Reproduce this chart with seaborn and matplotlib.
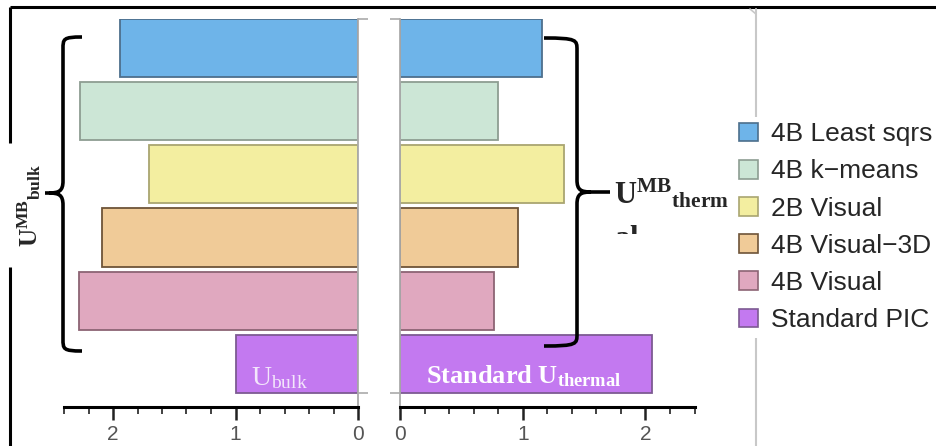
import matplotlib
matplotlib.use("Agg")
import matplotlib.pyplot as plt
import seaborn as sns
from matplotlib.path import Path
from matplotlib.patches import PathPatch
from matplotlib.ticker import MultipleLocator
from matplotlib.transforms import Bbox

# Methods, bulk velocity and thermal velocity estimates
methods = ["4B Least sqrs", "4B k\u2212means", "2B Visual",
           "4B Visual\u22123D", "4B Visual", "Standard PIC"]
u_bulk = [1.94, 2.27, 1.71, 2.09, 2.28, 1.00]
u_thermal = [1.16, 0.80, 1.34, 0.96, 0.77, 2.05]

fills = ["#6EB4E9", "#CCE6D6", "#F3EEA0", "#F0CB98", "#E0A8BF", "#C379F0"]
edges = ["#4D6F8C", "#8D9D92", "#A9A571", "#6E5438", "#8C6474", "#7D5A92"]

sns.set_theme(style="white")
plt.rcParams["font.family"] = ["Liberation Sans", "DejaVu Sans"]
plt.rcParams["mathtext.fontset"] = "custom"
plt.rcParams["mathtext.rm"] = "Liberation Serif"
plt.rcParams["mathtext.bf"] = "Liberation Serif:bold"
plt.rcParams["mathtext.it"] = "Liberation Serif:italic"

W, H = 936, 446
fig = plt.figure(figsize=(W / 100, H / 100), dpi=100)

def px_rect(x0, y0, x1, y1):
    return [x0 / W, 1 - y1 / H, (x1 - x0) / W, (y1 - y0) / H]

ax_l = fig.add_axes(px_rect(64, 18.7, 358, 407))
ax_r = fig.add_axes(px_rect(400, 18.7, 694.5, 407))

palette = dict(zip(methods, fills))
for ax, vals in ((ax_l, u_bulk), (ax_r, u_thermal)):
    sns.barplot(x=vals, y=methods, hue=methods, palette=palette, orient="h",
                width=0.92, linewidth=1.3, legend=False, ax=ax, saturation=1)
    for patch, ec in zip(ax.patches, edges):
        patch.set_edgecolor(ec)
    ax.set_ylim(5.68, -0.46)
    ax.set_xlim(0, 2.4)
    ax.set_xlabel("")
    ax.set_ylabel("")
    ax.xaxis.set_major_locator(MultipleLocator(1))
    ax.xaxis.set_minor_locator(MultipleLocator(0.2))
    ax.tick_params(axis="x", which="major", bottom=True, length=9, width=1.8,
                   color="#222222", labelsize=15, labelcolor="#555555", pad=4)
    ax.tick_params(axis="x", which="minor", bottom=True, length=5, width=1.3,
                   color="#333333")
    ax.set_yticks([-0.46, 5.46])
    ax.set_yticklabels([])
    ax.tick_params(axis="y", length=7, width=1.2, color="#AAAAAA")
    for s in ax.spines.values():
        s.set_visible(False)
    ax.spines["bottom"].set_visible(True)
    ax.spines["bottom"].set_color("black")
    ax.spines["bottom"].set_linewidth(2.2)
    ax.set_facecolor("none")

ax_l.invert_xaxis()
ax_l.yaxis.tick_right()
ax_l.spines["right"].set_visible(True)
ax_l.spines["right"].set_color("#AAAAAA")
ax_l.spines["right"].set_linewidth(1.3)
ax_l.tick_params(axis="y", right=True, left=False)
ax_r.spines["left"].set_visible(True)
ax_r.spines["left"].set_color("#AAAAAA")
ax_r.spines["left"].set_linewidth(1.3)
ax_r.tick_params(axis="y", left=True, right=False)

# Labels inside the standard PIC bars
ax_l.text(0.87, 5.33, r"$\mathrm{U_{bulk}}$", color="#F3E6FB", fontsize=20,
          ha="left", va="baseline")
ax_r.text(0.21, 5.30, r"$\mathbf{Standard\ U_{thermal}}$", color="white",
          fontsize=19, ha="left", va="baseline")

# Overlay in pixel coordinates for frame lines and braces
ov = fig.add_axes([0, 0, 1, 1])
ov.set_xlim(0, W)
ov.set_ylim(H, 0)
ov.axis("off")
ov.set_zorder(5)
ov.patch.set_alpha(0)

ov.plot([10, W], [7, 7], color="black", lw=2.2, solid_capstyle="butt")
ov.plot([10, 10], [7, 143], color="black", lw=2.2, solid_capstyle="butt")
ov.plot([10, 10], [267, H], color="black", lw=2.2, solid_capstyle="butt")
ov.plot([756, 756], [9, H], color="#C8C8C8", lw=1.5)
ov.plot([750, 756], [9, 14], color="#C8C8C8", lw=1.2)

def brace(x_end, x_bar, x_tip, y_top, y_mid, y_bot):
    d = 1 if x_tip > x_bar else -1
    c = 12
    verts = [
        (x_end, y_top),
        (x_bar, y_top), (x_bar, y_top + 2), (x_bar, y_top + c),
        (x_bar, y_mid - c),
        (x_bar, y_mid - 2), (x_bar + d * 4, y_mid), (x_bar + d * 14, y_mid),
        (x_tip, y_mid),
        (x_bar + d * 14, y_mid),
        (x_bar + d * 4, y_mid), (x_bar, y_mid + 2), (x_bar, y_mid + c),
        (x_bar, y_bot - c),
        (x_bar, y_bot - 2), (x_bar, y_bot), (x_end, y_bot),
    ]
    codes = [Path.MOVETO,
             Path.CURVE4, Path.CURVE4, Path.CURVE4,
             Path.LINETO,
             Path.CURVE4, Path.CURVE4, Path.CURVE4,
             Path.LINETO,
             Path.MOVETO,
             Path.CURVE4, Path.CURVE4, Path.CURVE4,
             Path.LINETO,
             Path.CURVE4, Path.CURVE4, Path.CURVE4]
    ov.add_patch(PathPatch(Path(verts, codes), fill=False, lw=2.6,
                           edgecolor="black", capstyle="butt"))

brace(82, 63, 45, 37, 193, 351)
brace(544, 577, 610, 38, 192, 346)

# Group labels
ov.text(37, 205, r"$\mathbf{U^{MB}{}_{bulk}}$", rotation=90, fontsize=18,
        ha="center", va="baseline", rotation_mode="anchor")
ov.text(614, 203, r"$\mathbf{U^{MB}{}_{therm}}$", fontsize=22,
        ha="left", va="baseline")
t_al = ov.text(614, 247, r"$\mathbf{al}$", fontsize=22, ha="left", va="baseline")
t_al.set_clip_box(Bbox.from_extents(600, H - 234, 700, H - 200))
t_al.set_clip_on(True)

# Legend
handles = [plt.Rectangle((0, 0), 1, 1, facecolor=f, edgecolor=e, lw=1.2)
           for f, e in zip(fills, edges)]
fig.legend(handles, methods, loc="upper left",
           bbox_to_anchor=(734 / W, 1 - 117 / H), frameon=True,
           fontsize=19, handlelength=0.72, handleheight=0.72,
           handletextpad=0.5, labelspacing=0.5, borderpad=0.2,
           borderaxespad=0, facecolor="white", edgecolor="none",
           framealpha=1)

fig.savefig("out.png", dpi=100)
